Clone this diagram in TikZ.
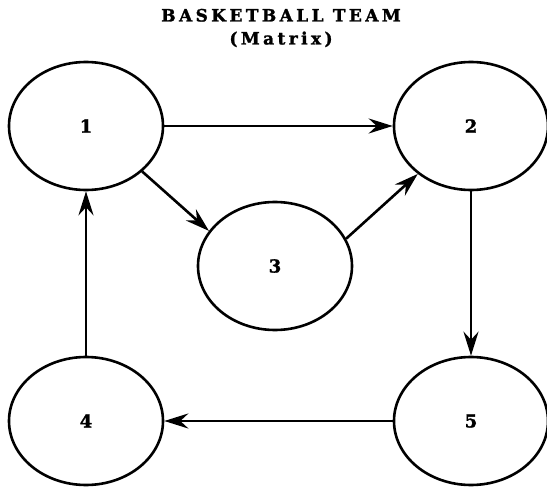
\documentclass[tikz,border=0pt]{standalone}
\usepackage{fontspec}
\setmainfont{DejaVu Serif}
\usetikzlibrary{shapes.geometric,arrows.meta}

\begin{document}
\begin{tikzpicture}[x=1pt, y=-1pt,
  every node/.style = {font=\fontsize{18}{23}\selectfont\bfseries\addfontfeature{FakeBold=1.5}},
  member/.style = {shape=ellipse, draw, line width=2.6pt,
    minimum width=154pt, minimum height=128pt, inner sep=0pt},
  link/.style = {line width=2.6pt,
    -{Stealth[length=24pt, width=15pt, inset=8pt]}}]
  \useasboundingbox (0,0) rectangle (547,487);
  \node[align=center, font=\fontsize{17}{23}\selectfont\bfseries\addfontfeature{LetterSpace=20,FakeBold=1.5}]
    (title) at (281,28) {BASKETBALL TEAM\\(Matrix)};
  \node[member] (n1) at (86,126) {1};
  \node[member] (n2) at (471,126) {2};
  \node[member] (n3) at (275,266) {3};
  \node[member] (n4) at (86,421) {4};
  \node[member] (n5) at (471,421) {5};
  \draw[link] (n1.east) -- (n2.west);
  \draw[link] (n1.-39) -- (n3.152);
  \draw[link] (n3.21) -- (n2.222);
  \draw[link] (n2.south) -- (n5.north);
  \draw[link] (n5.west) -- (n4.east);
  \draw[link] (n4.north) -- (n1.south);
\end{tikzpicture}
\end{document}
